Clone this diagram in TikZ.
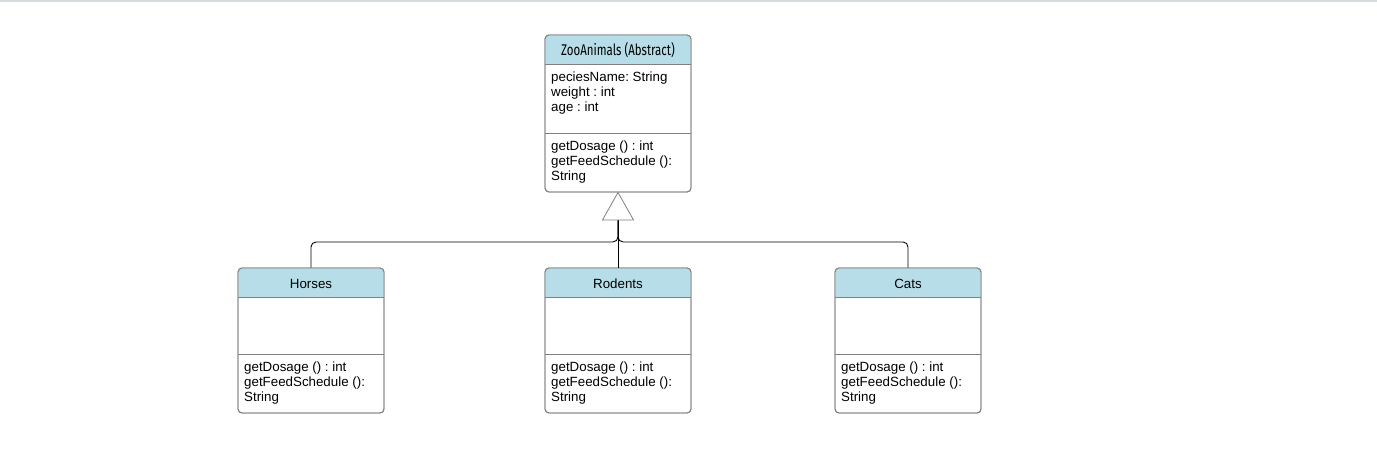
\documentclass[tikz,border=0pt]{standalone}
\usepackage{fontspec}
\usetikzlibrary{calc}
\setmainfont{Liberation Sans}
\frenchspacing
\newfontfamily\condfont[FakeStretch=0.74]{Fira Sans}
\definecolor{hdr}{RGB}{182,221,232}
\definecolor{boxgray}{RGB}{128,128,128}
\definecolor{topline}{RGB}{214,219,224}
\tikzset{
  classbox/.style={draw=boxgray, line width=0.9pt, rounded corners=4pt, fill=white, inner sep=0pt},
  divline/.style={draw=boxgray, line width=0.9pt},
  hdrtext/.style={anchor=base, inner sep=0pt, font=\fontsize{13.33}{15}\selectfont},
  titletext/.style={anchor=base, inner sep=0pt, font=\condfont\fontsize{15.5}{15}\selectfont},
  bodytext/.style={anchor=base west, inner sep=0pt, font=\frenchspacing\fontsize{13.33}{15}\selectfont},
  conn/.style={draw=black, line width=0.9pt, rounded corners=5pt},
  inh/.style={draw=boxgray, line width=0.8pt, fill=white},
}
% \umlcls{name}{x1}{y1}{x2}{y2}{yheader}{ydivider}
\newcommand{\umlcls}[7]{%
  \node[classbox, minimum width={#4-#2}, minimum height={#5-#3}] (#1) at ({(#2+#4)/2},{(#3+#5)/2}) {};
  \fill[hdr] (#2+0.45,#6) [rounded corners=3.6pt] -- (#2+0.45,#3+0.45) -- (#4-0.45,#3+0.45) [sharp corners] -- (#4-0.45,#6) -- cycle;
  \draw[classbox, fill=none] (#2,#3) rectangle (#4,#5);
  \draw[divline] (#2,#6) -- (#4,#6);
  \draw[divline] (#2,#7) -- (#4,#7);
}
\begin{document}
\begin{tikzpicture}[x=1pt,y=-1pt]
\useasboundingbox (0,0) rectangle (1377,472);
\fill[white] (0,0) rectangle (1377,472);
\draw[topline, line width=2pt] (0,1) -- (1377,1);

% top class
\umlcls{zoo}{545}{35}{691}{192}{64}{133}
\node[titletext] (zoot) at (618,55.5) {ZooAnimals (Abstract)};
\node[bodytext] (za1) at (551,81) {peciesName: String};
\node[bodytext] (za2) at (551,96) {weight : int};
\node[bodytext] (za3) at (551,111) {age : int};
\node[bodytext] (zm1) at (551,150) {getDosage () : int};
\node[bodytext] (zm2) at (551,165) {getFeedSchedule ():};
\node[bodytext] (zm3) at (551,180) {String};

% subclasses
\umlcls{horses}{238}{268}{384}{413}{297}{354}
\node[hdrtext] (ht) at (311,288.5) {Horses};
\node[bodytext] (hm1) at (244,371) {getDosage () : int};
\node[bodytext] (hm2) at (244,386) {getFeedSchedule ():};
\node[bodytext] (hm3) at (244,401) {String};

\umlcls{rodents}{545}{268}{691}{413}{297}{354}
\node[hdrtext] (rt) at (618,288.5) {Rodents};
\node[bodytext] (rm1) at (551,371) {getDosage () : int};
\node[bodytext] (rm2) at (551,386) {getFeedSchedule ():};
\node[bodytext] (rm3) at (551,401) {String};

\umlcls{cats}{835}{268}{981}{413}{297}{354}
\node[hdrtext] (ct) at (908,288.5) {Cats};
\node[bodytext] (cm1) at (841,371) {getDosage () : int};
\node[bodytext] (cm2) at (841,386) {getFeedSchedule ():};
\node[bodytext] (cm3) at (841,401) {String};

% inheritance
\coordinate (triB) at ($(zoo.south)+(0,27.5)$);
\draw[conn] (triB) -- ++(0,22) -| (horses.north);
\draw[conn] (triB) -- ++(0,22) -| (cats.north);
\draw[conn] (triB) -- (rodents.north);
\draw[inh] (zoo.south) -- ($(triB)+(-15.5,0)$) -- ($(triB)+(15.5,0)$) -- cycle;
\end{tikzpicture}
\end{document}
